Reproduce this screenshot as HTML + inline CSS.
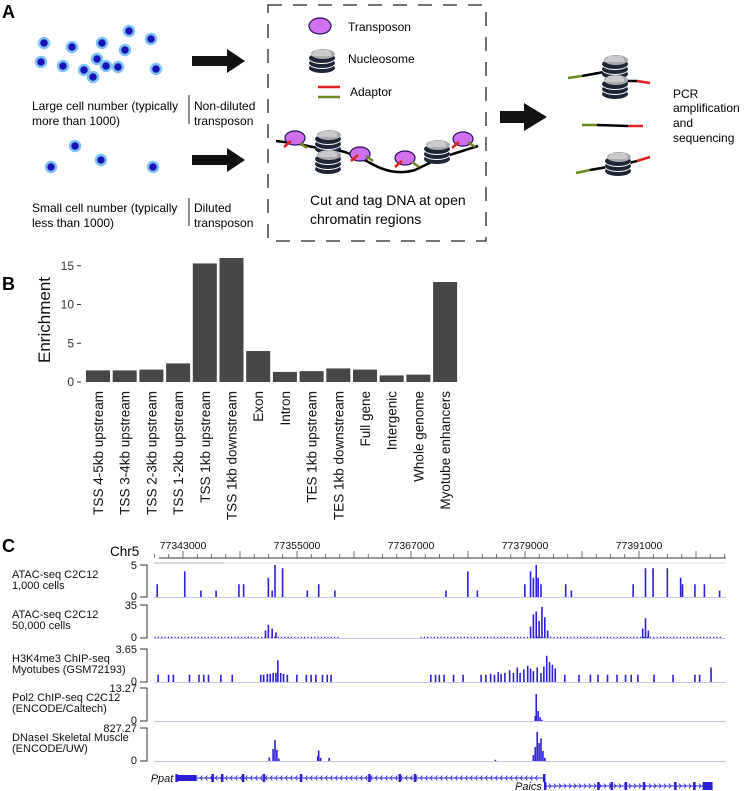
<!DOCTYPE html>
<html><head><meta charset="utf-8"><style>
body{margin:0;background:#fff}
svg{display:block;font-family:"Liberation Sans",Arial,sans-serif}
</style></head><body>
<svg id="fig" width="744" height="791" viewBox="0 0 744 791" xmlns="http://www.w3.org/2000/svg">
<defs>
 <g id="nuc">
  <ellipse cx="0" cy="9" rx="13" ry="5" fill="#1d2536"/>
  <ellipse cx="0" cy="5" rx="13" ry="5" fill="#fff"/>
  <ellipse cx="0" cy="4" rx="13" ry="5" fill="#1d2536"/>
  <ellipse cx="0" cy="0" rx="13" ry="5" fill="#fff"/>
  <ellipse cx="0" cy="-1" rx="13" ry="5" fill="#1d2536"/>
  <ellipse cx="1" cy="-5" rx="12" ry="5" fill="#a9aaad"/>
  <path d="M-9,-6 h18 M-11,-4 h20 M-7,-8 h14" stroke="#fff" stroke-width="0.8"/>
 </g>
 <g id="nuc2"><use href="#nuc" y="-10"/><use href="#nuc" y="10"/></g>
</defs>

<!-- PANEL A -->
<g>
<text x="2" y="18" font-size="18" font-weight="bold">A</text>
<g fill="#1a13b8" stroke="#7fc4f0" stroke-width="2.5">
 <circle cx="44" cy="43" r="5"/><circle cx="72" cy="47" r="5"/><circle cx="102" cy="43" r="5"/><circle cx="129" cy="31" r="5"/><circle cx="151" cy="39" r="5"/><circle cx="125" cy="50" r="5"/><circle cx="97" cy="59" r="5"/><circle cx="41" cy="62" r="5"/><circle cx="63" cy="66" r="5"/><circle cx="84" cy="70" r="5"/><circle cx="93" cy="77" r="5"/><circle cx="118" cy="67" r="5"/><circle cx="156" cy="69" r="5"/><circle cx="106" cy="66" r="5"/>
</g>
<text x="32" y="110" font-size="12">Large cell number (typically</text>
<text x="32" y="125" font-size="12">more than 1000)</text>
<g fill="#1a13b8" stroke="#7fc4f0" stroke-width="2.5">
 <circle cx="75" cy="146" r="5"/><circle cx="101" cy="160" r="5"/><circle cx="153" cy="167" r="5"/><circle cx="51" cy="167" r="5"/>
</g>
<text x="32" y="212" font-size="12">Small cell number (typically</text>
<text x="32" y="227" font-size="12">less than 1000)</text>
<path d="M192,56 h35 v-7 l18,12 l-18,12 v-7 h-35z" fill="#111"/>
<path d="M192,155 h35 v-7 l18,12 l-18,12 v-7 h-35z" fill="#111"/>
<text x="194" y="110" font-size="12">Non-diluted</text>
<text x="194" y="125" font-size="12">transposon</text>
<text x="194" y="212" font-size="12">Diluted</text>
<text x="194" y="227" font-size="12">transposon</text>
<line x1="189" y1="95" x2="189" y2="124" stroke="#222" stroke-width="1"/>
<line x1="189" y1="198" x2="189" y2="226" stroke="#222" stroke-width="1"/>
<rect x="268" y="5" width="218" height="236" fill="none" stroke="#222" stroke-width="1.3" stroke-dasharray="14,11"/>
<ellipse cx="320" cy="26" rx="11" ry="8" fill="#d070f0" stroke="#2a1060" stroke-width="1.2"/>
<text x="348" y="31" font-size="12">Transposon</text>
<use href="#nuc" x="322" y="59"/>
<text x="348" y="63" font-size="12">Nucleosome</text>
<line x1="318" y1="87" x2="340" y2="87" stroke="#e02020" stroke-width="2.5"/>
<line x1="318" y1="97" x2="340" y2="97" stroke="#6a8a20" stroke-width="2.5"/>
<text x="350" y="96" font-size="12">Adaptor</text>
<path d="M276,141 L300,144 C320,150 330,148 345,152 C360,158 365,160 372,164 C390,174 405,173 415,170 L440,158 L478,146" fill="none" stroke="#000" stroke-width="2.5"/>
<g fill="#d070f0" stroke="#2a1060" stroke-width="1.2">
 <ellipse cx="295" cy="138" rx="10" ry="7"/><ellipse cx="360" cy="154" rx="10" ry="7"/><ellipse cx="405" cy="158" rx="10" ry="7"/><ellipse cx="463" cy="139" rx="10" ry="7"/>
</g>
<g stroke-width="2.5">
 <path d="M284,147 l7,-6 M351,161 l7,-6 M395,167 l7,-6 M452,148 l7,-6" stroke="#e02020"/>
 <path d="M300,143 l7,5 M366,156 l7,5 M412,162 l7,5 M468,142 l7,5" stroke="#6a8a20"/>
</g>
<use href="#nuc2" x="328" y="150"/>
<use href="#nuc" x="437" y="150"/>
<text x="310" y="205" font-size="14">Cut and tag DNA at open</text>
<text x="310" y="224" font-size="14">chromatin regions</text>
<path d="M500,111 h24 v-8 l23,14 l-23,14 v-8 h-24z" fill="#111"/>
<g>
 <line x1="568" y1="78" x2="582" y2="76" stroke="#6a8a20" stroke-width="2.5"/>
 <path d="M582,76 L604,72 M625,81 L637,81" stroke="#000" stroke-width="2.5"/>
 <line x1="637" y1="81" x2="650" y2="83" stroke="#e02020" stroke-width="2.5"/>
 <use href="#nuc2" x="615" y="75"/>
</g>
<g>
 <line x1="582" y1="125" x2="597" y2="125" stroke="#6a8a20" stroke-width="2.5"/>
 <line x1="597" y1="125" x2="628" y2="126" stroke="#000" stroke-width="2.5"/>
 <line x1="628" y1="126" x2="643" y2="126" stroke="#e02020" stroke-width="2.5"/>
</g>
<g>
 <line x1="576" y1="173" x2="590" y2="170" stroke="#6a8a20" stroke-width="2.5"/>
 <path d="M590,170 L625,164 L637,161" stroke="#000" stroke-width="2.5"/>
 <line x1="637" y1="161" x2="650" y2="157" stroke="#e02020" stroke-width="2.5"/>
 <use href="#nuc" x="618" y="162"/>
</g>
<g font-size="12">
 <text x="673" y="98">PCR</text><text x="673" y="112">amplification</text><text x="673" y="127">and</text><text x="673" y="142">sequencing</text>
</g>
</g>

<!-- PANEL B -->
<g id="panelB">
<text x="2" y="290" font-size="18" font-weight="bold">B</text>
<text transform="translate(50,320) rotate(-90)" text-anchor="middle" font-size="17" fill="#111">Enrichment</text>
</g>

<!-- PANEL C -->
<g id="panelC">
<text x="2" y="552" font-size="18" font-weight="bold">C</text>
<text x="110" y="556" font-size="13.5">Chr5</text>
</g>
</svg>
<script>
const NS='http://www.w3.org/2000/svg';
function mk(tag,attrs,parent){const e=document.createElementNS(NS,tag);for(const k in attrs)e.setAttribute(k,attrs[k]);parent.appendChild(e);return e;}

// ---- Panel B data ----
const categories=["TSS 4-5kb upstream","TSS 3-4kb upstream","TSS 2-3kb upstream","TSS 1-2kb upstream","TSS 1kb upstream","TSS 1kb downstream","Exon","Intron","TES 1kb upstream","TES 1kb downstream","Full gene","Intergenic","Whole genome","Myotube enhancers"];
const enrichment=[1.5,1.5,1.6,2.4,15.3,16.0,4.0,1.3,1.4,1.75,1.6,0.85,0.95,12.9];
const yTicks=[0,5,10,15];

const B=document.getElementById('panelB');
const bx0=86,bpitch=26.7,bw=24,by0=382,bscale=7.75;
const yB=v=>by0-v*bscale;
const xB=i=>bx0+i*bpitch;
yTicks.forEach(t=>{
 const tx=mk('text',{x:74,y:yB(t)+4,'text-anchor':'end','font-size':12,fill:'#333'},B);tx.textContent=t;
 
 
 const tl=mk('line',{x1:77,x2:81,y1:yB(t),y2:yB(t),stroke:'#333','stroke-width':1},B);
 
 
});
categories.forEach((c,i)=>{
 const r=mk('rect',{x:xB(i),y:yB(enrichment[i]),width:bw,height:enrichment[i]*bscale,fill:'#464646'},B);
 
 
 const t=mk('text',{transform:`translate(${xB(i)+bw/2+5},391) rotate(-90)`,'text-anchor':'end','font-size':13.5,fill:'#111'},B);t.textContent=c;
 
 
});

// ---- Panel C data (positions in kb) ----
const rulerTicks=[77343000,77355000,77367000,77379000,77391000];
const t1Pos=[77340.2,77343.1,77344.8,77346.4,77348.8,77349.3,77351.9,77352.3,77352.6,77353.4,77356.0,77357.2,77358.9,77370.6,77372.9,77373.9,77378.9,77379.5,77379.8,77380.1,77380.3,77380.6,77383.2,77383.8,77390.3,77391.6,77392.4,77393.9,77395.3,77395.5,77396.8,77397.8,77399.4];
const t1Val=[2,4,1,1,2,2,3,1,5,4.5,1,2,1,1,4,1,2,4,3,5,3,2,2,1,2,4.5,4.5,4.5,3,2,2,2,1];
const t2Pos=[77351.6,77351.9,77352.3,77352.7,77379.5,77379.8,77380.1,77380.4,77380.7,77381.0,77381.3,77391.3,77391.6,77391.9];
const t2Val=[8,14,10,6,12,25,28,18,33,22,8,10,21,8];
const t2Background=[[77340.0,77359.3,1.3],[77368.0,77399.7,1.3]];
const t3Pos=[77340.3,77341.4,77341.9,77343.6,77344.6,77345.1,77345.6,77346.9,77348.1,77351.1,77351.4,77351.8,77352.1,77352.4,77352.7,77352.9,77353.2,77353.5,77353.9,77354.9,77355.9,77356.4,77356.9,77357.6,77358.1,77358.5,77369.0,77369.5,77369.9,77370.4,77371.4,77372.4,77374.3,77374.8,77375.3,77375.7,77376.1,77376.4,77376.8,77377.3,77377.7,77378.1,77378.4,77378.8,77379.2,77379.5,77379.8,77380.2,77380.6,77380.9,77381.2,77381.5,77381.8,77382.1,77383.1,77384.6,77385.8,77386.6,77387.6,77388.6,77389.5,77390.1,77390.8,77392.5,77394.5,77396.8,77397.3,77398.5];
const t3Val=[0.8,0.8,0.8,0.8,0.8,0.8,0.8,0.8,0.8,0.8,0.8,0.9,0.9,1.0,1.0,2.4,1.0,0.9,0.8,0.8,0.8,0.8,0.8,0.8,0.8,0.8,0.8,0.8,0.8,0.8,0.8,0.8,0.8,0.8,0.9,0.8,1.1,0.9,1.0,1.3,1.0,1.6,1.0,1.4,1.8,1.5,1.2,1.6,1.0,1.7,2.9,2.2,1.9,1.5,0.8,0.8,0.8,0.8,0.8,0.8,0.8,0.8,0.8,0.8,0.8,0.8,0.8,1.6];
const t4Pos=[77380.0,77380.1,77380.3,77380.5,77380.7];
const t4Val=[2,10.8,4,1.5,0.5];
const t5Pos=[77352.0,77352.4,77352.6,77352.8,77353.0,77357.1,77357.2,77357.4,77358.3,77375.8,77379.8,77380.0,77380.2,77380.4,77380.6,77380.8,77381.0];
const t5Val=[90,300,525,280,60,120,263,80,80,30,150,350,730,450,565,250,80];
const trackNames=[["ATAC-seq C2C12","1,000 cells"],["ATAC-seq C2C12","50,000 cells"],["H3K4me3 ChIP-seq","Myotubes (GSM72193)"],["Pol2 ChIP-seq C2C12","(ENCODE/Caltech)"],["DNaseI Skeletal Muscle","(ENCODE/UW)"]];
const trackMax=[5,35,3.65,13.27,827.27];
const trackMaxLabel=["5","35","3.65","13.27","827.27"];
const ppatExons=[77342.3,77346.1,77347.1,77349.3,77351.5,77355.4,77362.6,77365.8,77367.4,77381.0];
const paicsExons=[77381.1,77386.7,77388.1,77389.6,77391.5,77394.8,77396.8,77397.8];

const C=document.getElementById('panelC');
const col='#2b1fd6';
const xC=kb=>183+(kb-77343)*9.5;
const xL=154,xR=726;
// ruler
const rl=mk('line',{x1:159,x2:xR,y1:558,y2:558,stroke:'#333','stroke-width':1},C);


for(let kb=77340;kb<=77401;kb+=1.5){const major=Math.abs(((kb-77343)%6+6)%6)<0.01;const tk=mk('line',{x1:xC(kb),x2:xC(kb),y1:major?551:554,y2:558,stroke:'#555','stroke-width':0.8},C);
 
 }
rulerTicks.forEach(t=>{const tx=mk('text',{x:xC(t/1000),y:549,'text-anchor':'middle','font-size':10.5,fill:'#111'},C);tx.textContent=t;
 
 });

const tracks=[{top:565,base:597,pos:t1Pos,val:t1Val},{top:605,base:638,pos:t2Pos,val:t2Val},{top:649,base:682,pos:t3Pos,val:t3Val},{top:688,base:721,pos:t4Pos,val:t4Val},{top:728,base:761,pos:t5Pos,val:t5Val}];
tracks.forEach((tr,i)=>{
 const g=mk('g',{},C);
 
 
 const n1=mk('text',{x:12,y:tr.top+13,'font-size':11,fill:'#111'},g);n1.textContent=trackNames[i][0];
 
 
 const n2=mk('text',{x:12,y:tr.top+24,'font-size':11,fill:'#111'},g);n2.textContent=trackNames[i][1];
 
 
 const mx=mk('text',{x:137,y:tr.top+4,'text-anchor':'end','font-size':11,fill:'#111'},g);mx.textContent=trackMaxLabel[i];
 
 
 const zr=mk('text',{x:137,y:tr.base+3,'text-anchor':'end','font-size':11,fill:'#111'},g);zr.textContent='0';
 
 
 const ax=mk('path',{d:`M140,${tr.top} h7 V${tr.base} h-7`,fill:'none',stroke:'#333','stroke-width':1},g);
 
 
 const bl=mk('line',{x1:xL,x2:xR,y1:tr.base+0.5,y2:tr.base+0.5,stroke:'#c9c6ee','stroke-width':1},g);
 
 
 const h=tr.base-tr.top;
 const sy=v=>v/trackMax[i]*h;
 if(i===1){t2Background.forEach(s=>{for(let k=s[0];k<s[1];k+=0.35){const r=mk('rect',{x:xC(k),y:tr.base-sy(s[2]),width:1.2,height:sy(s[2]),fill:col},g);
  
  }});}
 tr.pos.forEach((p,j)=>{const r=mk('rect',{x:xC(p),y:tr.base-sy(tr.val[j]),width:1.6,height:sy(tr.val[j]),fill:col},g);
  
  });
});
// top gray bars
const gb=mk('rect',{x:xL,y:562,width:xR-xL,height:2,fill:'#eee'},C);


const gb2=mk('rect',{x:xL,y:562,width:70,height:2,fill:'#d8d8d8'},C);



// genes
function gene(name,exons,y,dir,lx){
 const g=mk('g',{},C);
 
 
 const x0=xC(exons[0]),x1=xC(exons[exons.length-1]);
 mk('line',{x1:x0,x2:x1,y1:y,y2:y,stroke:col,'stroke-width':1},g);
 for(let x=x0+4;x<x1-4;x+=5){mk('path',{d:dir<0?`M${x+2},${y-2.5} l-2,2.5 l2,2.5`:`M${x},${y-2.5} l2,2.5 l-2,2.5`,fill:'none',stroke:col,'stroke-width':0.8},g);}
 exons.forEach((e,j)=>{mk('rect',{x:xC(e)-1,y:y-4,width:(j===exons.length-1&&dir>0)?10:2.5,height:8,fill:col},g);});
 if(dir<0)mk('rect',{x:x0,y:y-3,width:20,height:6,fill:col},g);
 const t=mk('text',{x:lx,y:y+4,'text-anchor':'end','font-size':11,'font-style':'italic',fill:'#111'},g);t.textContent=name;
}
gene('Ppat',ppatExons,778,-1,xC(ppatExons[0])-3);
gene('Paics',paicsExons,786,1,xC(paicsExons[0])-3);
</script>
</body></html>
